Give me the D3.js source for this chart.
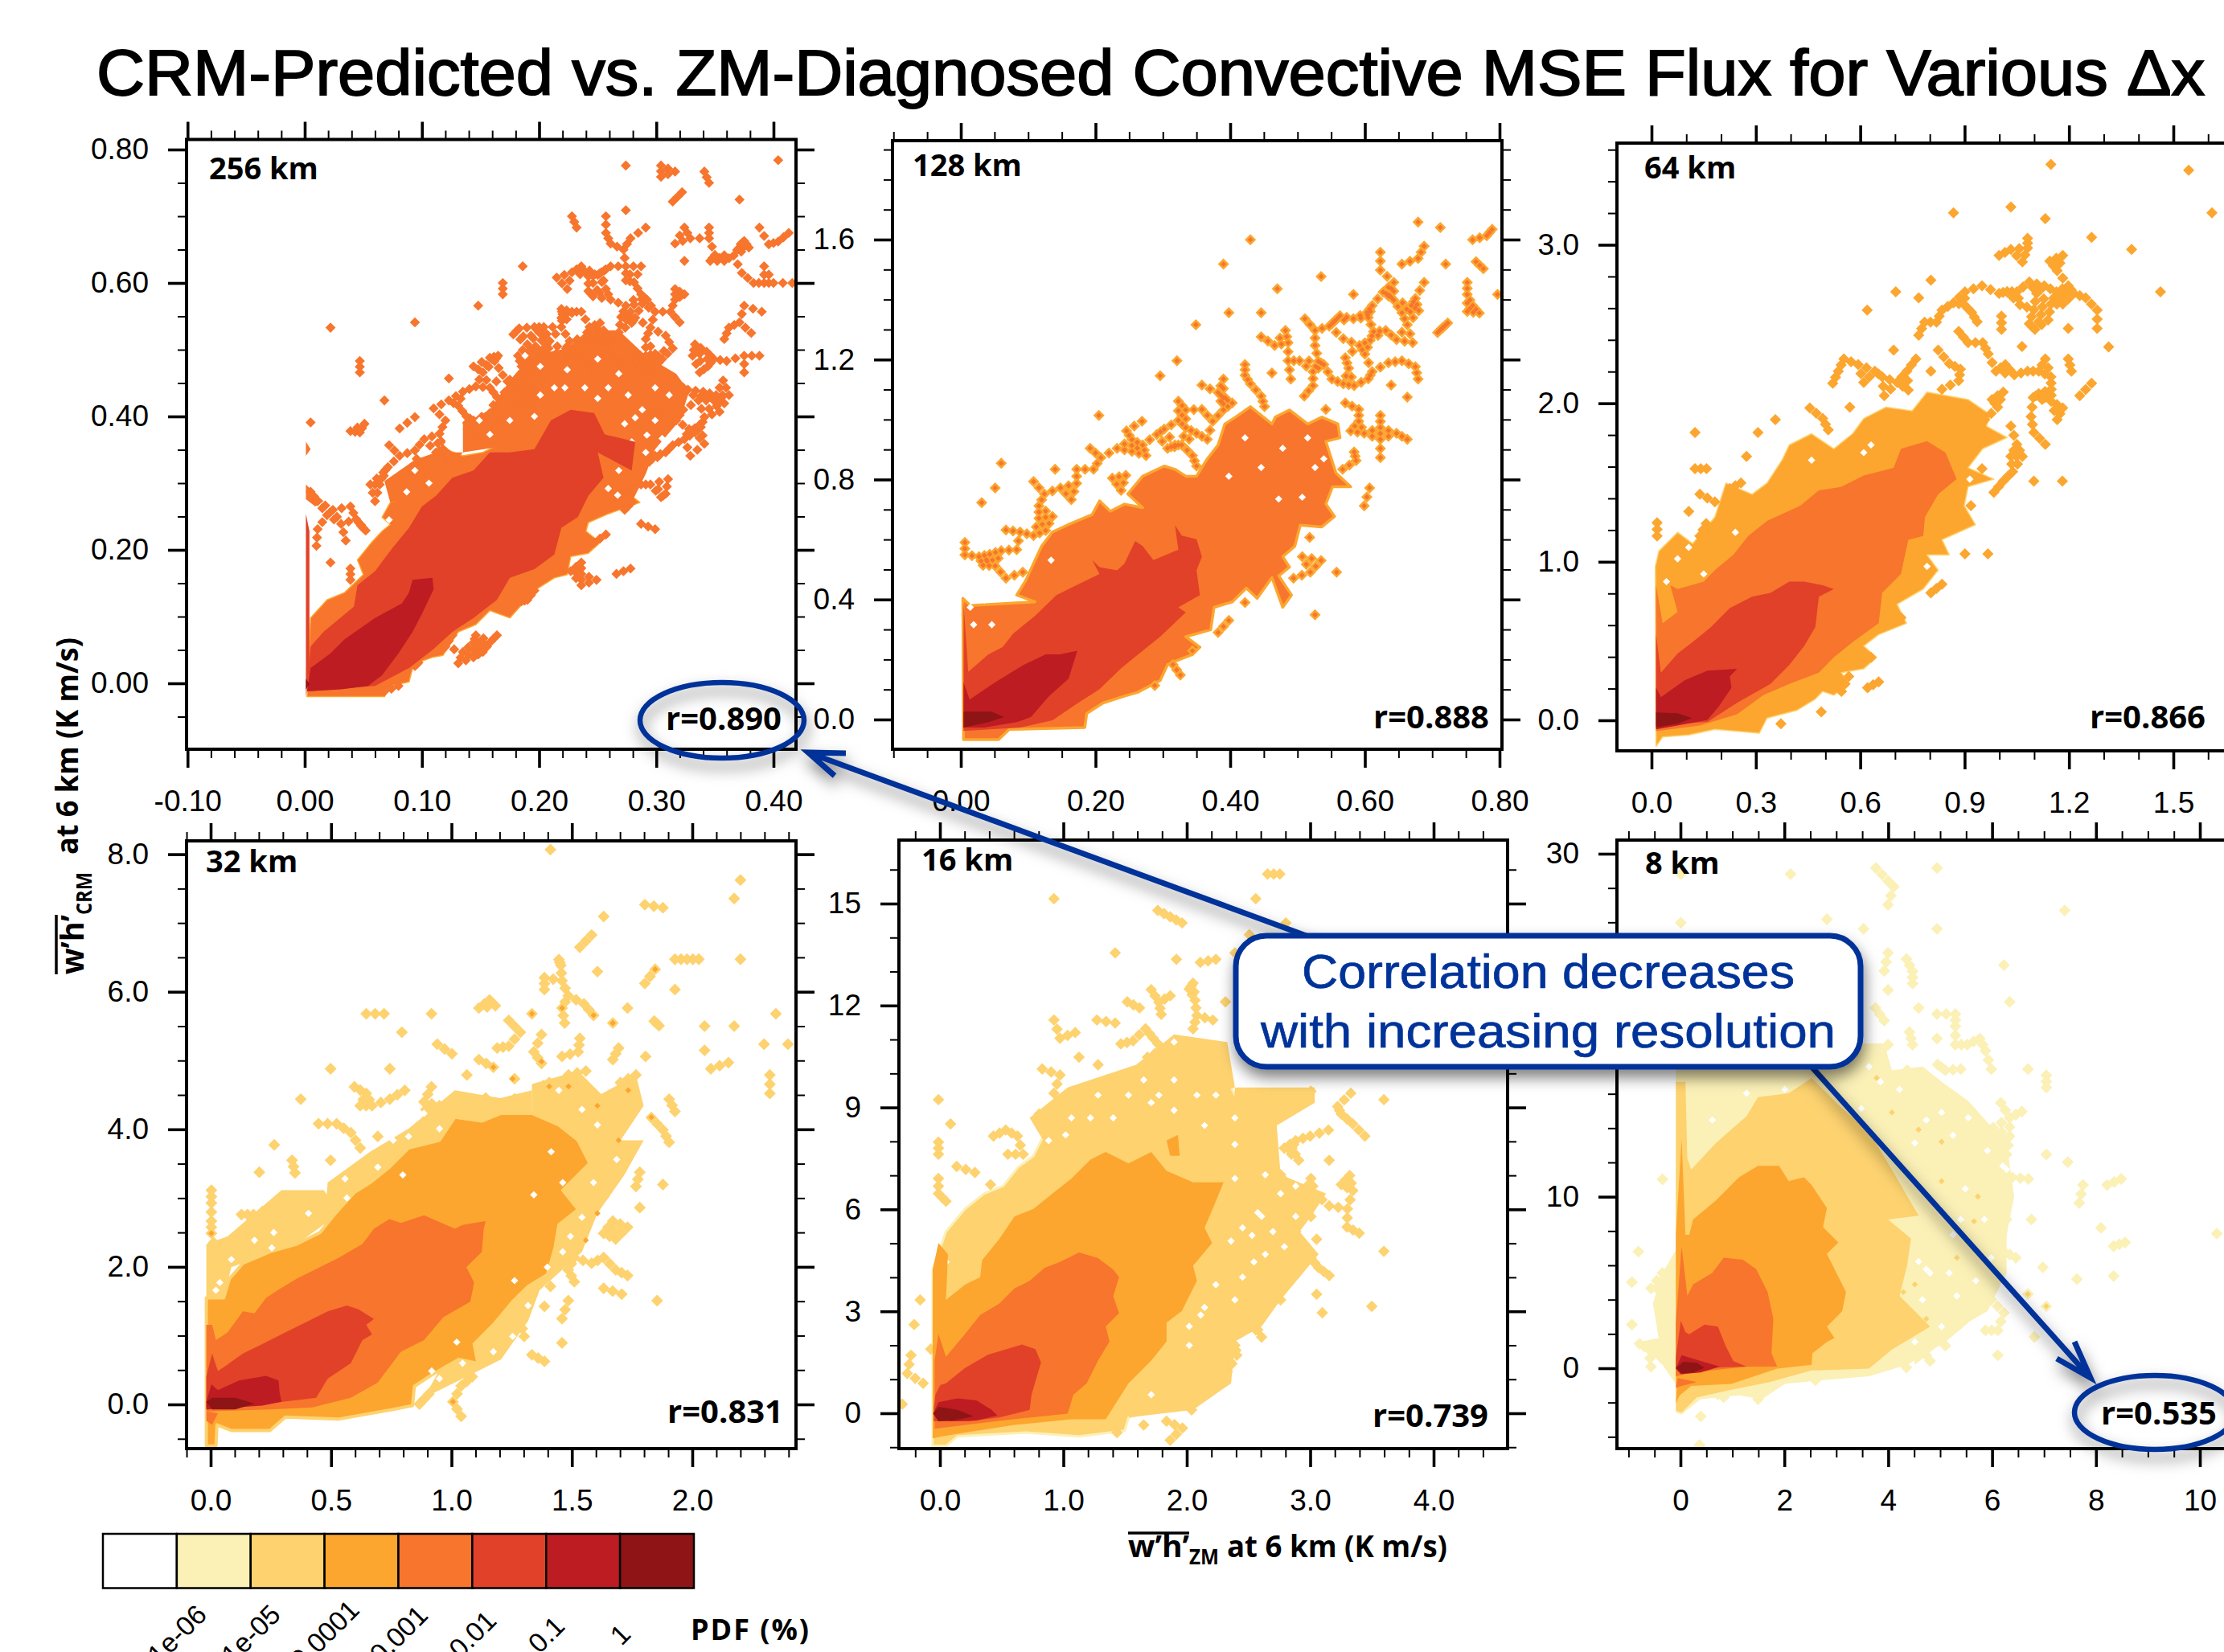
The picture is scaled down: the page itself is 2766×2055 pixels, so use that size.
<!DOCTYPE html>
<html><head><meta charset="utf-8">
<script src="https://cdn.jsdelivr.net/npm/d3@7/dist/d3.min.js"></script>
<style>html,body{margin:0;padding:0;background:#fff;overflow:hidden}svg{display:block}</style>
</head><body><svg id="c" width="2766" height="2055"></svg>
<script>
const pdfColors=["#ffffff","#fbf0b6","#fdd26f","#fca62f","#f7752c","#e14128","#bd1c22","#8f1416"];
const pdfLabels=["1e-06","1e-05","0.0001","0.001","0.01","0.1","1"];
const panelNames=["256 km","128 km","64 km","32 km","16 km","8 km"];
const correlations=["r=0.890","r=0.888","r=0.866","r=0.831","r=0.739","r=0.535"];

const fringeA256=[135,346,135,389,158,410,175,454,193,491,224,502,242,529,268,529,291,491,317,464,328,437,320,394,299,351,291,314,279,271,262,260,262,389,204,389,175,357];
const fringeB256=[73,271,68,303,94,335,112,346,135,346,103,281];
const orange256=[2,-20,68,-20,73,-4,89,2,93,29,109,39,118,42,131,77,146,88,158,109,175,98,196,139,213,158,224,163,227,190,242,195,252,211,240,228,242,241,259,254,286,271,273,289,285,319,279,346,291,373,279,400,262,405,247,405,227,432,216,432,204,394,181,373,170,362,152,346,135,341,120,351,112,346,103,324,94,303,92,281,73,271,66,249,73,238,66,228,57,211,45,185,50,163,34,136,19,125,5,98];
const red256=[2,-12,60,-4,89,23,109,50,126,77,144,98,164,125,175,158,196,171,213,193,219,233,233,249,242,281,255,308,250,346,279,319,282,362,256,373,247,405,227,410,210,394,196,351,175,346,158,346,144,319,126,308,112,281,100,265,89,233,74,201,60,168,45,147,42,115,16,77,5,55];
const crimson256=[2,-12,5,23,22,45,34,66,60,98,83,120,89,136,92,155,109,158,110,141,100,104,92,77,80,45,66,12,54,-4,31,-9];
const dark256=[1,7,4,-1,1,-9];
const spike256=[1,254,4,228,4,23,1,-20];
const bitA256=[1,362,5,351,1,341];
const bitB256=[1,298,16,273,9,265,1,276];
const dots256=[274,776,304,776,304,759,316,767,341,767,345,750,404,784,371,725,314,722,322,736,228,700,232,683,257,700,274,709,257,675,291,683,324,683,345,683,329,667,345,667,261,659,278,667,316,659,388,683,413,675,324,633,358,633,366,641,346,633,350,642,272,650,375,663,379,653,396,658,404,662,186,625,236,625,261,625,274,625,287,625,392,625,228,616,253,616,215,608,373,615,383,600,392,600,400,600,416,600,169,600,169,583,148,566,224,591,257,591,316,591,324,583,316,575,287,583,274,566,261,575,299,557,228,557,236,557,312,557,375,566,390,557,270,549,371,541,320,541,94,541,22,533,295,533,362,533,381,525,291,516,358,516,333,508,190,508,375,491,388,491,182,491,47,483,47,466,144,475,152,466,337,466,375,466,123,457,68,424,123,424,131,416,362,432,349,424,94,399,354,407,341,399,5,391,81,382,115,374,102,366,324,366,72,357,94,349,81,341,329,341,64,298,56,298,287,298,295,298,60,273,39,265,287,239,299,231,31,239,35,214,10,206,257,223,22,181,39,172,39,155,266,164,278,172,249,155,236,181,236,164,236,147,144,39,131,30,152,47,135,47,
178,523,183,532,196,534,200,526,204,534,209,513,204,502,196,491,190,480,185,475,194,470,196,456,207,491,211,475,217,462,222,497,226,513,219,534,220,491,227,483,239,518,237,502,243,534,252,540,247,523,258,518,268,526,256,502,240,483,246,475,250,464,258,491,265,483,274,480,282,491,291,491,286,475,294,459,299,494,308,521,314,502,305,486,299,475,311,459,318,448,327,440,331,491,343,497,349,486,344,475,360,483,357,454,340,437,336,424,177,443,181,448,190,443,196,437,183,432,184,416,194,410,201,454,158,488,162,483,165,491,169,462,158,443,146,445,164,429,135,437,110,412,138,400,144,394,139,381,120,394,158,405,167,394,177,410,148,362,39,378,51,389,47,376,112,346,118,351,123,343,126,335,71,324,67,316,86,308,81,298,92,306,87,287,97,324,106,314,24,260,19,252,11,273,5,287,44,246,48,236,52,229,11,231,288,378,291,362,294,332,299,341,308,346,314,357,310,306,308,284,304,279,328,381,338,384,333,376,341,359,291,405,299,405,308,410,323,410,317,394,311,394,299,416,351,432,279,271,273,260,268,281,275,287,262,279,247,211,240,217,227,168,216,171,190,125,196,139,185,123,164,72,159,63,146,72,144,61,126,72,120,55,97,31,94,26,80,-4,68,-12,372,658,274,604,281,601,288,569,292,575,279,540,282,548,242,588,246,580,250,612,242,610,219,561,220,553];
const holes256=[106,300,175,300,267,282,292,372,282,398,72,245,201,475,188,491,213,443,201,432,224,470,250,486,268,464,259,443,276,432,299,443,311,432,288,410,299,394,279,362,291,346,268,319,259,292,196,400,175,394,158,373,149,394,123,362,94,319,87,287,222,443,239,443,250,427,305,367,273,389];

const orange128=[4,-67,56,-67,72,-33,184,-27,187,20,211,55,243,78,262,90,296,130,307,183,318,194,344,217,355,241,334,276,371,299,376,374,403,392,424,438,440,404,462,473,478,374,491,415,472,479,488,508,478,543,496,578,504,648,536,642,555,677,542,718,552,776,579,776,557,822,542,927,563,939,560,985,536,1008,515,985,488,1032,467,1008,462,985,430,1043,408,1008,392,985,382,915,366,869,350,811,334,811,318,834,302,845,270,811,248,752,270,706,243,718,222,694,206,729,195,683,158,648,136,625,120,578,96,462,83,415,110,392,14,380,3,404];
const red128=[4,-38,88,-27,136,-3,174,55,206,101,238,171,270,229,296,276,334,357,323,374,355,415,350,497,358,543,350,601,328,613,318,648,323,566,286,531,270,578,259,595,243,520,232,497,206,508,195,531,206,485,174,450,142,415,110,345,78,287,62,241,41,217,11,159,4,392];
const crimson128=[4,124,13,66,51,124,94,183,126,217,147,217,173,229,160,136,131,78,104,8,83,-9,35,-27,4,-27];
const dark128=[4,26,46,26,64,8,41,-9,4,-27];
const dots128=[679,1658,712,1640,760,1599,430,1599,623,1558,688,1578,679,1537,655,1518,720,1518,390,1518,623,1498,781,1613,789,1634,535,1477,643,1457,688,1457,752,1457,470,1436,752,1417,583,1417,797,1417,765,1526,776,1503,636,1415,627,1425,643,1398,398,1356,446,1356,655,1356,752,1360,760,1380,770,1355,675,1404,669,1380,680,1363,603,1357,611,1380,605,1340,511,1336,583,1336,555,1328,547,1311,563,1346,349,1316,663,1316,526,1297,482,1297,631,1297,715,1305,708,1290,723,1322,613,1293,608,1264,446,1276,486,1256,466,1247,671,1256,647,1266,526,1247,568,1270,592,1247,600,1218,486,1196,503,1196,655,1196,635,1189,675,1176,321,1196,422,1183,422,1148,430,1119,462,1155,490,1135,611,1160,605,1136,531,1194,523,1160,539,1183,551,1135,571,1206,576,1171,584,1113,568,1119,679,1135,639,1115,296,1146,390,1135,358,1115,663,1075,523,1113,510,1078,323,1061,334,1032,358,1034,390,1072,382,1090,403,1055,390,1032,446,1078,451,1043,571,1055,591,1034,623,1014,542,1034,205,1014,269,994,323,997,334,973,374,994,591,994,623,973,579,962,599,954,647,954,663,934,350,954,366,934,246,962,254,933,291,950,302,968,318,915,307,904,328,915,623,934,192,904,232,904,254,894,270,915,275,880,208,873,584,892,587,863,623,873,567,834,344,880,350,845,140,834,172,834,197,834,60,854,108,793,225,805,245,814,51,772,607,772,599,712,31,723,124,752,148,772,172,787,164,733,116,712,116,671,136,677,238,764,67,632,88,625,108,613,126,630,558,491,535,530,519,491,494,471,507,543,518,607,526,349,422,390,398,330,382,290,326,148,315,183,288,113,344,229,60,563,43,551,27,543,33,514,83,566,51,512,67,471,92,491,6,590,6,549];
const holes128=[422,939,478,904,446,840,398,811,515,939,472,735,507,741,35,398,19,316,46,316,134,531,526,840,539,869,14,374,51,415];

const amber64=[13,-165,32,-105,107,-93,182,-57,310,-81,332,14,417,62,471,134,492,182,524,158,567,230,546,301,610,325,647,397,610,469,653,541,733,612,706,732,781,828,824,947,792,1043,856,1043,835,1139,931,1234,899,1354,910,1473,984,1521,910,1593,952,1713,1022,1784,963,1856,974,1928,910,2024,792,2071,749,1952,674,1976,610,1904,578,1808,524,1713,460,1808,396,1737,375,1641,332,1497,289,1426,214,1497,182,1282,118,1115,75,1186,21,1067,11,971];
const orange64=[13,-69,139,-33,246,38,321,158,396,230,481,301,524,397,578,493,653,612,663,804,717,923,738,1139,781,1163,786,1282,824,1426,877,1521,845,1689,792,1761,717,1713,696,1593,610,1545,546,1473,481,1450,428,1354,332,1258,278,1163,235,1043,182,947,150,875,75,828,54,852,75,684,32,612,13,852];
const red64=[13,-33,161,-10,246,110,342,230,396,349,439,469,471,588,481,780,524,828,492,852,439,875,396,875,342,804,289,780,225,708,171,588,118,493,75,421,27,301,13,541];
const crimson64=[13,206,27,146,96,254,161,313,246,325,225,277,230,206,193,86,161,2,75,-33,13,-57];
const dark64=[13,50,75,45,116,14,75,-22,13,-45];
const dots64=[1148,3507,1544,3471,1611,3201,868,3201,1033,3239,1132,3165,1265,3047,1380,2971,1081,3040,1081,2980,1033,2971,999,2933,1182,2933,1066,2892,1145,2897,1166,2837,803,2777,950,2741,901,2703,999,2693,1022,2705,1050,2703,1086,2765,1107,2693,1129,2741,1164,2703,1198,2741,1214,2693,702,2703,768,2665,1248,2665,1463,2703,868,2634,899,2622,1059,2622,1099,2591,1148,2626,1182,2626,1281,2588,835,2588,620,2588,920,2574,936,2514,1006,2550,1140,2526,1086,2502,1102,2466,785,2512,819,2512,1006,2466,1198,2473,1281,2473,883,2454,910,2382,952,2382,968,2311,768,2430,1065,2359,1314,2356,696,2335,760,2280,824,2335,856,2251,888,2215,883,2143,553,2280,1132,2280,1198,2280,594,2244,537,2203,642,2203,663,2167,734,2203,803,2203,1207,2203,990,2203,1017,2244,1043,2179,1081,2203,1113,2203,1148,2167,610,2131,521,2127,706,2131,738,2083,1265,2127,1149,2088,1011,2071,979,2024,995,1976,1231,2048,835,2088,669,2048,1097,2036,1113,2060,1149,2012,1182,1971,570,1976,455,1971,492,1904,508,1832,1091,1916,958,1897,1166,1897,1033,1856,125,1816,306,1816,356,1897,1099,1816,1050,1741,1132,1741,984,1784,273,1665,1033,1665,1066,1665,125,1588,158,1588,950,1588,1038,1569,1011,1509,1099,1509,1181,1509,984,1438,918,1354,901,1050,967,1050,835,859,803,804,653,242,621,206,546,182,488,53,372,-22,717,648,674,624,631,397,567,277,16,1246,16,1163,139,1163,157,1241,107,1318,139,1426,182,1378,225,1462,268,1354,257,1497];
const holes64=[460,1641,610,1689,631,1737,792,971,43,875,75,1019,241,1186,150,923,107,1091,915,1521];

const fringeA32=[1334,4657,1526,4847,1622,4511,1766,4791,1798,4343,1702,3840,1798,3840,1718,3337,1606,2778,1542,2219,1366,1660,1318,1213,1206,654,1078,430,950,207,886,95,1366,3114,1334,4232];
const fringeB32=[486,3225,662,3673,822,4008,1014,4567,1203,4455,1334,4567,1334,4232,886,3784,662,3225,470,2555];
const fringeC32=[-18,2331,70,2443,294,3114,470,3114,534,2778,358,2331,86,1996,54,1548,-18,1548];
const amber32=[-18,-604,22,-604,26,-296,86,-380,246,-380,310,-184,534,-212,758,-73,838,-17,846,263,918,430,1030,654,1110,598,1094,878,1174,1157,1254,1493,1318,1716,1398,1884,1430,2275,1446,2611,1526,2834,1462,3114,1574,3505,1526,3840,1446,4064,1334,4232,1206,4232,1126,4120,1014,4176,950,3840,822,3729,742,3449,662,3225,598,3086,518,2778,454,2499,358,2331,246,2219,134,2052,78,1828,54,1548,-18,1548];
const orange32=[-18,-101,246,-73,422,-45,582,95,694,319,790,766,886,934,966,1269,1078,1493,1094,1772,1062,1996,1126,2219,1134,2555,1142,2666,1046,2611,1014,2555,886,2750,790,2638,742,2694,678,2555,630,2331,534,2135,454,1996,358,1828,278,1660,230,1548,182,1325,134,1353,70,1045,22,934,6,1157,-18,1157];
const red32=[-18,-45,166,-17,438,95,486,375,582,598,630,934,670,1017,646,1157,678,1241,614,1381,566,1437,486,1353,406,1213,310,1045,214,878,134,738,54,542,30,486,6,738,-18,402];
const crimson32=[-18,39,3,291,30,207,118,347,230,414,282,347,286,179,294,39,214,-17,-18,-73];
const dark32=[-18,39,6,95,102,95,182,11,102,-73,6,-73];
const lower32=[-18,-101,30,-129,6,-296,-18,-240];
const dots32=[1411,8066,2200,7625,2174,7356,1803,7267,1878,7222,1632,7094,1582,6825,1533,6647,1446,6468,1454,6384,1928,6473,1978,6473,2027,6473,2200,6473,1846,6328,1606,6294,1386,6205,1459,6160,1803,6121,1386,6032,1928,6032,1485,5942,1182,5797,1158,5881,1550,5825,1114,5763,1459,5763,1731,5763,646,5680,720,5680,917,5680,1334,5680,1590,5657,1238,5584,1670,5545,1842,5573,1862,5506,2051,5501,2174,5501,2347,5680,1470,5545,794,5411,1286,5411,1374,5378,1533,5322,941,5238,1694,5182,2298,5238,2397,5238,1002,5098,1190,5182,1238,5210,1342,5126,2051,5148,1806,5059,1114,5014,1174,4903,1459,5059,1526,5126,1670,5014,1374,4958,498,4880,744,4880,2150,4970,2077,4880,2322,4791,1064,4791,1262,4735,1486,4791,1558,4847,1406,4679,1358,4595,1494,4567,1766,4791,1702,4679,1734,4511,597,4617,806,4567,917,4617,2322,4522,1262,4444,646,4522,621,4343,670,4343,744,4438,374,4438,1904,4438,1928,4260,886,4399,950,4343,902,4176,1046,4455,1142,4455,1534,4288,1606,4343,1830,4170,1731,4170,448,4081,523,4081,582,3952,1878,3991,1904,3812,264,3773,621,3729,694,3896,790,3840,338,3550,498,3550,202,3376,350,3365,1782,3376,1878,3197,3,3114,3,2929,1766,3170,1632,3019,1782,2862,128,2761,178,2761,251,2845,326,3002,454,3002,3,2666,3,2488,1670,2666,1731,2577,1632,2488,1682,2404,1534,2387,1510,2135,1632,2135,1582,2052,1485,1956,1682,1956,1731,1873,1510,1783,1632,1688,1707,1604,1485,1509,1411,1716,1386,1425,1854,1509,1459,1247,1286,1213,1302,989,1459,894,1334,721,1386,626,1190,766,1142,878,1086,402,1040,268,1006,39,906,151,867,6,1040,-173,86,2387,134,2443,182,2219,22,2219,54,2052,22,1828,326,2555,406,2611];
const inner32=[1374,4986,1406,4623,1486,4623,1670,5545,1590,5657,1830,4176,1334,5680,1459,5763,1734,4567,1606,4343,1694,3840,1606,2778,1558,2387,1006,39,1174,4903,1254,4735,3,2488,1846,6328];
const holes32=[1414,3673,1342,3047,798,3337,1262,1800,918,486,1462,3225,1022,906,558,3281,22,1660,254,2275,1446,4567,1542,4288,1606,4064,1686,3561,1590,3225,1542,2722,1494,2443,1462,2219,1398,1996,1318,1437,1254,989,1174,766,1046,598,950,375,886,4232,950,4008,758,3840,822,3896,694,3449,566,3002,406,2778,262,2499,182,2387,86,2107,38,1772];

const fringeA16=[2390,9586,3037,9586,3037,9140,2729,8470,2760,7020,3129,6462,3006,5792,2914,5346,3068,4676,2760,3337,2606,2556,2390,2109,2359,882,2051,100,1528,-123,2328,5346];
const fringeB16=[727,8694,1035,9586,1590,10256,1897,11149,2328,10926,2390,9586,1590,8694,912,7578];
const yellow16=[-59,-960,49,-960,142,-681,696,-569,1127,-681,1497,-513,1528,-123,1651,-11,1836,100,2020,882,2113,1328,2298,1998,2328,2667,2513,3114,2636,3672,2760,4453,2636,5122,2760,5792,2760,6462,2544,6908,2606,7801,2513,8470,2390,9363,2298,10033,2236,10591,2082,10256,1897,9921,1651,10033,1343,9586,1127,9252,1035,8694,850,8247,758,7578,634,7243,511,6685,357,6462,203,6015,49,5346,-59,4230];
const amber16=[-59,-737,18,-681,203,-569,604,-346,1066,-179,1343,-179,1528,882,1712,1551,1836,2109,1836,2667,1959,3002,2082,3895,2051,4341,2205,5011,2144,5457,2236,6238,2298,6796,2051,6796,1836,7131,1712,7689,1528,7354,1343,7689,1220,7466,1066,6908,912,6462,758,6015,604,5792,480,5122,342,4509,326,4006,203,3783,49,3337,65,4676,-12,5011,-59,4230];
const bump16=[1836,8024,1928,8191,1943,7578,1866,7578];
const orange16=[-43,-458,450,-234,1035,-11,1081,547,1189,882,1281,1551,1374,2109,1343,2556,1451,2946,1404,3448,1451,4006,1404,4230,1281,4564,1127,4732,973,4453,850,4285,727,3895,604,3672,480,3225,326,2890,203,2332,49,1663,-12,2332,-43,1551];
const red16=[-49,156,-37,547,3,826,49,882,203,1328,388,1719,665,2020,773,1886,819,1495,742,547,727,100,480,-123,234,-234,-49,-234];
const crimson16=[-55,-11,-12,324,142,435,296,379,419,100,465,-67,296,-212,80,-234];
const dark16=[-55,-11,-12,190,142,100,271,-89,111,-212,-12,-234];
const dots16=[2655,15870,2754,15870,924,15144,2559,15144,1765,14798,1866,14608,1962,14430,2803,14430,2507,14084,1420,13548,1916,13359,2110,13269,2236,13359,2390,13548,1712,12466,1866,12287,2020,12488,2051,12655,2067,12153,1774,12097,1518,12108,1617,11930,2313,12108,1793,11740,924,11573,1272,11573,1420,11484,1096,11205,973,11037,1565,10959,1666,11316,1728,11037,2082,11707,2051,11316,2211,11573,1466,10870,1127,10479,1281,10256,1682,10479,1805,10702,829,10133,973,9955,924,9419,3597,9229,-12,9229,3329,9419,3222,9028,3252,8805,3345,8515,3148,8336,3443,8158,3000,8158,2883,8024,86,8515,533,8336,434,8158,628,8158,-12,7979,-12,7622,136,7265,283,7087,551,7622,675,7622,804,8805,2907,7444,3154,7444,3006,6908,3320,6997,3252,6729,3345,6551,2760,7020,2852,7801,-12,6908,410,6729,3154,6105,3302,6015,3037,6462,2914,6015,3006,5792,2852,5346,3299,5480,3397,5301,3052,5122,2858,4765,3597,4765,3006,4564,3068,4285,3154,4051,2760,4676,2760,4341,3052,3504,3098,2957,3499,3147,2636,3560,2760,3337,-160,3337,-209,2611,80,2913,2544,2667,2606,2243,2405,1707,2261,1707,2328,1216,2162,993,2261,815,2064,458,2039,100,1965,-435,1866,-792,-234,1707,-265,1172,-305,268,-136,882,-74,1886,49,6238,-12,6462,1281,-346,1435,-569,2698,9252,2883,9363,3006,9475,2760,8917,2636,8694,2945,6238,2636,5792,2790,7801,2821,6685,2945,6462,2883,5346,2760,5011,2852,4899,2636,4230,2636,3337,2513,2667,2390,1998,2298,1328,2113,882,1836,-234,1651,-346];
const holes16=[1019,8191,1897,8917,1774,9363,2144,8470,2390,7912,2390,6908,2529,5234,2359,5067,2236,3783,2020,1998,1712,547,49,4453,2113,2890,2606,5792,2544,4453,2452,5457,2760,6462,2636,7020,2883,6685,2883,5792,2698,5346,2791,4899,2636,4676,2452,4006,2390,3337,2144,3114,2020,2556,2575,5904,1712,9140,1897,9810,2082,9363,2236,9363,2390,8694,1528,9363,1281,9363,1220,8694,1404,8694,1066,8694,881,8024,1897,10926,1651,9810];

const fringe8=[4659,17595,5395,15811,6278,13135,6425,10013,6278,7783,6278,5553,5910,3323,5395,2431,4512,201,4070,12243];
const pale8=[-88,-2587,22,-2698,390,-1806,1126,-1583,1568,-1806,2009,-914,2745,-691,3628,-468,4364,201,5100,1539,5542,2654,5984,4438,6278,5553,5910,7114,6278,7560,6352,10013,5836,10682,5689,12243,6131,13581,5542,15588,5027,16703,4659,17595,4070,17372,3923,18933,-88,18933,-88,6891,-346,5553,-530,3769,-420,1762,-788,1539,-346,201,-88,-914];
const yellow8=[-88,16703,96,16703,132,12243,206,11574,684,13135,1273,14696,1494,15811,2083,16034,2524,16926,3040,15365,3628,13804,4070,11574,4585,8898,3996,8675,4438,7560,4364,5999,4217,4215,4512,3323,4806,2431,4070,1093,3628,-22,2524,-134,1715,-803,979,-1249,316,-1695,22,-2587,-88,-2475];
const amber8=[-88,-1137,1862,-22,2524,201,2539,870,2819,1539,2966,1762,2819,2431,3113,3323,3187,4438,3040,5330,2819,6668,3040,7337,2745,8229,2819,9344,2524,10682,2377,11128,2083,10905,1899,11797,1494,11797,1126,11128,684,9790,243,8675,169,7783,96,7783,22,13358,-88,7783];
const amberLow8=[-88,-2029,-15,-1583,206,-1026,979,-914,1862,-22,-52,-468];
const orange8=[-88,-468,243,-245,1273,89,1862,89,1752,870,1788,2877,1678,4438,1457,5776,1200,6333,832,6445,611,5553,243,4884,132,4215,22,7114,-88,2654];
const orangeLow8=[-88,-1137,22,-1026,316,-803,-52,-580];
const red8=[-88,-22,1273,89,1016,424,868,1316,721,2431,464,2542,169,1985,96,2096,7,2765,-88,647];
const crimson8=[-88,-22,22,758,390,424,758,89,390,-245,7,-357];
const dark8=[-88,22,59,379,316,312,464,22,243,-245,22,-290];
const dots8=[2120,28812,3761,29168,4939,29168,7,28812,3996,28410,4107,28076,3996,27028,7397,26693,2819,26180,7,25979,3525,25623,4939,25623,3996,24218,4350,23861,6227,23504,4468,23147,3923,23170,4468,22434,3996,22055,6337,21363,3754,21007,4585,21007,4939,20650,5292,20650,5292,19936,3923,20271,4409,19602,5763,19223,4939,19223,5292,18866,5520,18866,4468,18866,3996,18866,5873,18509,3776,18264,4953,17706,5100,17372,4364,17372,5395,17439,5984,17439,6690,17439,7044,17082,7044,16368,6168,15476,6572,14963,6337,14607,5520,14607,4953,16257,4659,15811,4438,16034,4806,15588,5174,14919,5321,15588,5763,13536,6337,13536,6020,14027,6057,13202,5527,13804,5527,12689,4806,12466,5211,12131,7044,12466,7456,12020,5984,12466,6278,12466,6388,11128,6698,11039,8486,11039,7750,10682,8214,10682,7677,9634,5542,11351,5984,10013,6168,10013,5984,8898,6278,8675,6756,8675,8096,8184,10326,7850,8339,7114,8560,7337,5689,7783,6020,7337,6227,6802,6455,6445,5542,6445,6977,5887,7632,5196,8339,5374,5984,3992,6690,4326,6227,3234,7044,3613,5579,3100,5873,2208,6109,2208,6815,1829,6109,758,5100,1316,4659,1093,4806,424,4350,45,-346,11016,-810,6802,-935,5018,-567,4661,-346,4661,-935,2542,-567,89,390,-2810,611,-1360,832,-1695,1494,-1806,2598,-691,-604,1093,-788,1427,-346,5553,368,-4482];
const inner8=[5027,10905,5726,10013,5652,8563,5321,6445,6690,4326,7044,3613,4585,13915,5027,13202,3776,16926,4070,14919,4291,4438,4512,4884,4732,2877];
const holes8=[3628,17595,611,14473,1273,16034,2009,16257,3481,15142,4585,6222,4659,3992,4070,1985,3628,647,4806,5553,5174,5553,5247,7783,5395,8675,4732,5776,5542,14607,5247,13581,5910,12689,5027,14919,4732,14473,4512,13135,5483,10459,5851,8675,6278,11596,5984,6445,5689,5107,5321,4215,5027,2431,4512,1539,6205,11797,4217,16257,3849,16703];

const xMajor256=[-0.1,0,0.1,0.2,0.3,0.4], yMajor256=[0,0.2,0.4,0.6,0.8];
const xMajor128=[0,0.2,0.4,0.6,0.8], yMajor128=[0,0.4,0.8,1.2,1.6];
const xMajor64=[0,0.3,0.6,0.9,1.2,1.5], yMajor64=[0,1,2,3];
const xMajor32=[0,0.5,1,1.5,2], yMajor32=[0,2,4,6,8];
const xMajor16=[0,1,2,3,4], yMajor16=[0,3,6,9,12,15];
const xMajor8=[0,2,4,6,8,10], yMajor8=[0,10,20,30];

const panels=[
 {n:0,box:[232,173.5,990,932],xa:[0,.4,379,962],ya:[0,.8,850,186],xM:xMajor256,yM:yMajor256,xm:.02,ym:.05,xf:2,yf:2,
  lab:[260,223],rr:[972,908],fringe:[fringeA256,fringeB256],outer:orange256,lv:4,rim:[3,1.5],dots:dots256,dotLv:4,h:6.3,holes:holes256,inner:[],layers:[[4,bitA256],[4,bitB256],[5,red256],[5,spike256],[6,crimson256],[7,dark256]]},
 {n:1,box:[1110,175,1868,932],xa:[0,.8,1195,1865],ya:[0,1.6,895,298],xM:xMajor128,yM:yMajor128,xm:.05,ym:.1,xf:2,yf:1,
  lab:[1135,219],rr:[1852,906],fringe:[],outer:orange128,lv:4,rim:[3,3.5],dots:dots128,dotLv:3,core:4,h:7,holes:holes128,inner:[],layers:[[5,red128],[6,crimson128],[7,dark128]]},
 {n:2,box:[2011,178,2769,934],xa:[0,1.5,2054,2703],ya:[0,3,896,304.5],xM:xMajor64,yM:yMajor64,xm:.1,ym:.2,xf:1,yf:1,
  lab:[2045,222],rr:[2743,906],fringe:[],outer:amber64,lv:3,rim:[2,1.5],dots:dots64,dotLv:3,h:7,holes:holes64,inner:[],layers:[[4,orange64],[5,red64],[6,crimson64],[7,dark64]]},
 {n:3,box:[232,1046,990,1802],xa:[0,2,262,861],ya:[0,8,1747,1062.6],xM:xMajor32,yM:yMajor32,xm:.1,ym:.5,xf:1,yf:1,
  lab:[256,1085],rr:[974,1770],fringe:[fringeA32,fringeB32,fringeC32],outer:amber32,lv:3,rim:[2,4],dots:dots32,dotLv:2,h:7.4,holes:holes32,inner:inner32,innerLv:3,layers:[[4,orange32],[4,lower32],[5,red32],[6,crimson32],[7,dark32]]},
 {n:4,box:[1118,1045,1875,1802],xa:[0,4,1169,1783],ya:[0,15,1758,1124],xM:xMajor16,yM:yMajor16,xm:.2,ym:1,xf:1,yf:0,
  lab:[1146,1083],rr:[1851,1775],fringe:[fringeA16,fringeB16],outer:yellow16,lv:2,rim:[1,3],dots:dots16,dotLv:2,h:7.2,holes:holes16,inner:[],layers:[[3,amber16],[3,bump16],[4,orange16],[5,red16],[6,crimson16],[7,dark16]]},
 {n:5,box:[2011,1045,2769,1802],xa:[0,10,2090,2736],ya:[0,30,1702,1062],xM:xMajor8,yM:yMajor8,xm:.5,ym:2,xf:0,yf:0,
  lab:[2046,1087],rr:[2757,1772],fringe:[fringe8],outer:pale8,lv:1,rim:[1,0],dots:dots8,dotLv:1,h:7.4,holes:holes8,inner:inner8,innerLv:2,layers:[[2,yellow8],[3,amber8],[3,amberLow8],[4,orange8],[4,orangeLow8],[5,red8],[6,crimson8],[7,dark8]]}
];

const svg=d3.select("#c");
const defs=svg.append("defs");
const sh=defs.append("filter").attr("id","shadow").attr("x","-30%").attr("y","-30%").attr("width","170%").attr("height","170%");
sh.append("feDropShadow").attr("dx",2).attr("dy",10).attr("stdDeviation",9).attr("flood-color","#000").attr("flood-opacity",.5);
const tickFont="'Liberation Sans',Arial,sans-serif", boldFont="'Open Sans',sans-serif";
const pts=a=>d3.range(0,a.length,2).map(i=>[a[i]/1000,a[i+1]/1000]);

svg.append("text").attr("x",120).attr("y",118).attr("textLength",2622).attr("lengthAdjust","spacingAndGlyphs")
  .style("font-family",tickFont).style("font-size","80px").attr("fill","#000").attr("stroke","#000").attr("stroke-width",1.8)
  .text("CRM-Predicted vs. ZM-Diagnosed Convective MSE Flux for Various Δx");

panels.forEach(p=>{
  const [L,T,R,B]=p.box;
  const x=d3.scaleLinear().domain([p.xa[0],p.xa[1]]).range([p.xa[2],p.xa[3]]);
  const y=d3.scaleLinear().domain([p.ya[0],p.ya[1]]).range([p.ya[2],p.ya[3]]);
  const g=svg.append("g");
  defs.append("clipPath").attr("id","clip"+p.n).append("rect").attr("x",L).attr("y",T).attr("width",R-L).attr("height",B-T);
  const plot=g.append("g").attr("clip-path",`url(#clip${p.n})`);
  const line=d3.line().x(d=>x(d[0])).y(d=>y(d[1])).curve(d3.curveLinearClosed);
  const poly=(lv,arr,rimLv,rw)=>plot.append("path").attr("d",line(pts(arr))).attr("fill",pdfColors[lv])
     .attr("stroke",rw?pdfColors[rimLv]:"none").attr("stroke-width",rw||0).attr("stroke-linejoin","round");
  // a fringe of a lighter level goes under the outer contour; one of the same level goes over its rim
  if(p.dotLv!==p.lv) p.fringe.forEach(f=>poly(p.dotLv,f));
  poly(p.lv,p.outer,p.rim[0],p.rim[1]);
  if(p.dotLv===p.lv) p.fringe.forEach(f=>poly(p.dotLv,f));
  const diamAt=(xy,lv,h)=>plot.append("g").selectAll("path").data(xy).join("path")
     .attr("d",d3.symbol(d3.symbolSquare,2*h*h)()).attr("fill",pdfColors[lv])
     .attr("transform",d=>`translate(${d[0]},${d[1]}) rotate(45)`);
  const px=a=>pts(a).map(d=>[x(d[0]),y(d[1])]);
  // neighbouring bins merge into one stepped contour patch, as they do in the reference
  const P=px(p.dots), mids=[];
  for(let i=0;i<P.length;i++)for(let j=i+1;j<P.length;j++){
    if(Math.hypot(P[i][0]-P[j][0],P[i][1]-P[j][1])<24)mids.push([(P[i][0]+P[j][0])/2,(P[i][1]+P[j][1])/2]);
  }
  diamAt(mids,p.dotLv,p.h);
  diamAt(P,p.dotLv,p.h);
  if(p.core){ diamAt(mids,p.core,3.4); diamAt(P,p.core,3.4); }
  diamAt(px(p.inner),p.innerLv||p.lv,3.8);
  diamAt(px(p.holes),0,4.6);
  p.layers.forEach(l=>poly(l[0],l[1]));

  const xd=[x.invert(L),x.invert(R)], yd=[y.invert(B),y.invert(T)];
  const minorOf=(M,step,d)=>{
    const k0=Math.ceil((d[0]-M[0])/step-1e-6),k1=Math.floor((d[1]-M[0])/step+1e-6);
    return d3.range(k0,k1+1).map(k=>M[0]+k*step).filter(v=>!M.some(m=>Math.abs(m-v)<step/4));
  };
  const xMin=minorOf(p.xM,p.xm,xd), yMin=minorOf(p.yM,p.ym,yd);
  const fx=d=>d.toFixed(p.xf), fy=d=>d.toFixed(p.yf);
  const put=(ax,tx,ty)=>{const a=g.append("g").attr("transform",`translate(${tx},${ty})`).call(ax);a.select(".domain").remove();return a;};
  const M=[
    put(d3.axisBottom(x).tickValues(p.xM).tickFormat(fx).tickSize(23).tickPadding(28),0,B),
    put(d3.axisTop(x).tickValues(p.xM).tickFormat("").tickSize(22),0,T),
    put(d3.axisLeft(y).tickValues(p.yM).tickFormat(fy).tickSize(23).tickPadding(24),L,0),
    put(d3.axisRight(y).tickValues(p.yM).tickFormat("").tickSize(23),R,0)];
  const m=[
    put(d3.axisBottom(x).tickValues(xMin).tickFormat("").tickSize(11),0,B),
    put(d3.axisTop(x).tickValues(xMin).tickFormat("").tickSize(11),0,T),
    put(d3.axisLeft(y).tickValues(yMin).tickFormat("").tickSize(11),L,0),
    put(d3.axisRight(y).tickValues(yMin).tickFormat("").tickSize(11),R,0)];
  M.forEach(a=>{a.selectAll("line").attr("stroke","#000").attr("stroke-width",3.6);
    a.selectAll("text").style("font-family",tickFont).style("font-size","37px").attr("fill","#000");});
  m.forEach(a=>a.selectAll("line").attr("stroke","#000").attr("stroke-width",2));
  g.append("rect").attr("x",L).attr("y",T).attr("width",R-L).attr("height",B-T).attr("fill","none").attr("stroke","#000").attr("stroke-width",4);
  g.append("text").attr("x",p.lab[0]).attr("y",p.lab[1]).text(panelNames[p.n]).style("font-family",boldFont).style("font-weight",700).style("font-size","38px");
  g.append("text").attr("x",p.rr[0]).attr("y",p.rr[1]).attr("text-anchor","end").text(correlations[p.n]).style("font-family",boldFont).style("font-weight",700).style("font-size","40px");
});

// colour bar
const barScale=d3.scaleLinear().domain([0,pdfColors.length]).range([128,863]);
svg.append("g").selectAll("rect").data(pdfColors).join("rect").attr("x",(d,i)=>barScale(i)).attr("y",1908)
  .attr("width",barScale(1)-barScale(0)).attr("height",67.5).attr("fill",d=>d).attr("stroke","#000").attr("stroke-width",2.5);
svg.append("g").selectAll("text").data(pdfLabels).join("text")
  .attr("transform",(d,i)=>`translate(${barScale(i+1)},2033) rotate(-45)`).attr("text-anchor","middle").attr("dominant-baseline","central")
  .style("font-family",tickFont).style("font-size","34px").text(d=>d);
svg.append("text").attr("x",859).attr("y",2040).attr("textLength",147).style("font-family",boldFont).style("font-weight",700).style("font-size","36px").text("PDF (%)");

// axis titles
const bold=(s,fs,len)=>s.style("font-family",boldFont).style("font-weight",700).style("font-size",fs+"px").attr("textLength",len).attr("lengthAdjust","spacingAndGlyphs");
bold(svg.append("text").attr("x",1403).attr("y",1937).text("w’h’"),38,76);
bold(svg.append("text").attr("x",1479).attr("y",1946).text("ZM"),26,37);
bold(svg.append("text").attr("x",1526).attr("y",1937).text("at 6 km (K m/s)"),38,274);
svg.append("line").attr("x1",1403).attr("x2",1479).attr("y1",1907).attr("y2",1907).attr("stroke","#000").attr("stroke-width",3.5);
bold(svg.append("text").attr("transform","translate(97,1063) rotate(-90)").text("at 6 km (K m/s)"),38,270);
bold(svg.append("text").attr("transform","translate(104,1212) rotate(-90)").text("w’h’"),40,74);
bold(svg.append("text").attr("transform","translate(114,1138) rotate(-90)").text("CRM"),26,53);
svg.append("line").attr("x1",70).attr("x2",70).attr("y1",1212).attr("y2",1138).attr("stroke","#000").attr("stroke-width",3.5);

// annotation
const blue="#003399";
const ann=svg.append("g");
const arrow=(pth)=>ann.append("path").attr("d",pth).attr("fill","none").attr("stroke",blue).attr("stroke-width",7).attr("filter","url(#shadow)");
arrow("M1630,1166L1005,936M1052,937L1005,936L1038,965");
arrow("M2254,1328L2600,1714M2558,1690L2600,1714L2580,1669");
ann.append("ellipse").attr("cx",898).attr("cy",896).attr("rx",102).attr("ry",47).attr("fill","none").attr("stroke",blue).attr("stroke-width",6.5).attr("filter","url(#shadow)");
ann.append("ellipse").attr("cx",2680).attr("cy",1757).attr("rx",100).attr("ry",46).attr("fill","none").attr("stroke",blue).attr("stroke-width",6.5).attr("filter","url(#shadow)");
ann.append("rect").attr("x",1537).attr("y",1164).attr("width",777).attr("height",163).attr("rx",38).attr("fill","#fff").attr("stroke",blue).attr("stroke-width",7).attr("filter","url(#shadow)");
[["Correlation decreases",1619,1229,613],["with increasing resolution",1568,1303,715]].forEach(t=>{
  ann.append("text").attr("x",t[1]).attr("y",t[2]).attr("textLength",t[3]).attr("lengthAdjust","spacingAndGlyphs").attr("fill",blue).attr("stroke",blue).attr("stroke-width",.7)
    .style("font-family",tickFont).style("font-size","60px").text(t[0]);
});
</script>
</body></html>
